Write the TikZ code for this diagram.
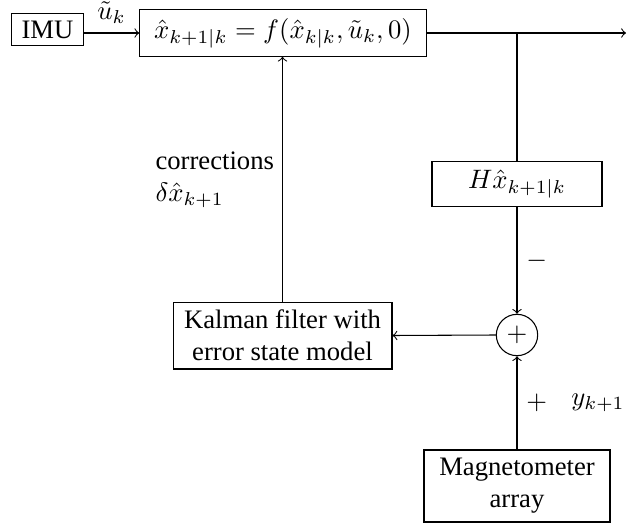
\documentclass[tikz,border=0pt]{standalone}
\usepackage{fontspec}
\setmainfont{Liberation Serif}
\begin{document}
\begin{tikzpicture}[x=0.375pt,y=-0.375pt,
  box/.style={draw, inner sep=0pt, align=center},
  >=to]
\useasboundingbox (0,0) rectangle (641,525);
\node[box, minimum width=26.8pt, minimum height=12pt] (imu) at (47.5,29.5) {IMU};
\node[box, minimum width=107.4pt, minimum height=17.4pt] (pred) at (283,33) {$\hat{x}_{k+1|k} = f(\hat{x}_{k|k},\tilde{u}_k,0)$};
\node[box, minimum width=63.75pt, minimum height=16.9pt] (h) at (517,184) {$H\hat{x}_{k+1|k}$};
\node[draw, circle, minimum size=15.5pt, inner sep=0pt] (sum) at (517,335) {$+$};
\node[box, minimum width=82.1pt, minimum height=25.1pt] (kf) at (282.5,335.5) {Kalman filter with\\error state model};
\node[box, minimum width=69.75pt, minimum height=27pt] (mag) at (517,486) {Magnetometer\\array};
\node[anchor=west, align=left, inner sep=0pt] (corr) at (155,180) {corrections\\$\delta\hat{x}_{k+1}$};
\node (y) at (598,403) {$y_{k+1}$};
\coordinate (out) at (626,33);
\coordinate (br) at (517,33);
\draw[->] (imu.east |- pred.west) -- node[above] (u) {$\tilde{u}_k$} (pred.west);
\draw[->] (pred.east) -- (out);
\draw (br) -- (h.north);
\draw[->] (h.south) -- node[right] (minus) {$-$} (sum.north);
\draw[->] (mag.north) -- node[right] (plus) {$+$} (sum.south);
\draw[->] (sum.west) -- (kf.east);
\draw[->] (kf.north) -- (kf.north |- pred.south);
\end{tikzpicture}
\end{document}
